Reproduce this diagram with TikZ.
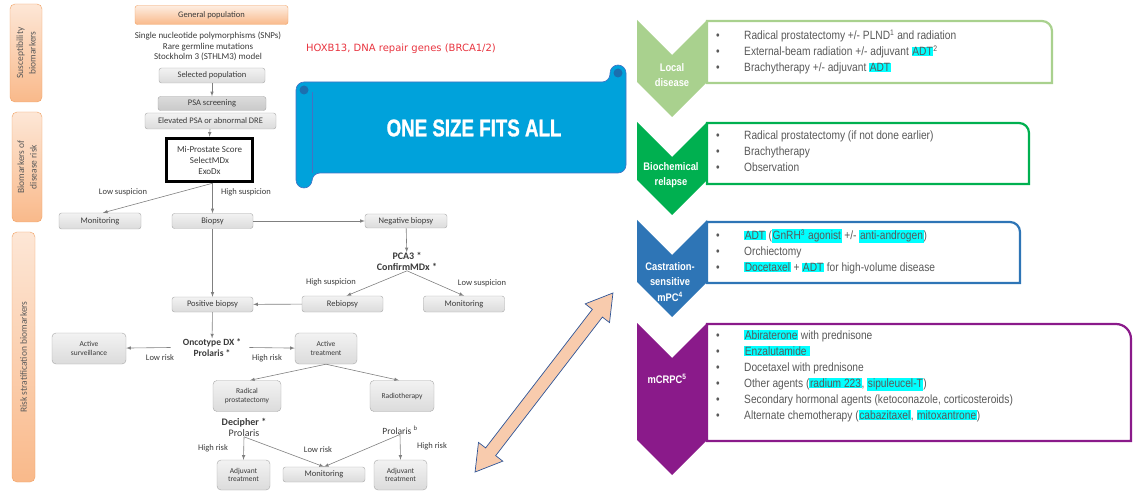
\documentclass[tikz,border=0pt]{standalone}
\usepackage{fontspec}
\setmainfont{Carlito}
\newfontfamily\redfont{DejaVu Sans}
\newfontfamily\listfont{Liberation Sans}[FakeStretch=0.85]
\newfontfamily\bannerfont{Liberation Sans}[FakeStretch=0.78, FakeBold=1.2]
\usepackage{xcolor}
\usepackage{tikz}
\usetikzlibrary{shapes,arrows,positioning,fit}

\definecolor{barfill}{HTML}{F9B98A}
\definecolor{barline}{HTML}{F0A062}
\definecolor{boxline}{HTML}{A6A6A6}
\definecolor{flowtext}{HTML}{3A3A3A}
\definecolor{hoxred}{HTML}{E8343F}
\definecolor{bannerblue}{HTML}{00A2DB}
\definecolor{bannerline}{HTML}{4472C4}
\definecolor{curlblue}{HTML}{1B6FAF}
\definecolor{arrowfill}{HTML}{F8CBAD}
\definecolor{arrowline}{HTML}{2F5597}
\definecolor{localgreen}{HTML}{A9D18E}
\definecolor{relapsegreen}{HTML}{00B050}
\definecolor{sensblue}{HTML}{2E75B6}
\definecolor{crpcpurple}{HTML}{8A1A8A}
\definecolor{listgray}{HTML}{595959}
\definecolor{hlcyan}{HTML}{00FFFF}

\newcommand{\cyanmark}[1]{{\setlength{\fboxsep}{0.6pt}\colorbox{hlcyan}{#1}}}

\begin{document}
\begin{tikzpicture}[
    x=1pt, y=-1pt,
    stage/.style={rectangle, rounded corners=5pt, draw=barline, top color=barfill!35, bottom color=barfill, text=listgray, font=\fontsize{9.5}{12.5}\selectfont, align=center, rotate=90, inner sep=0pt},
    fbox/.style={rectangle, rounded corners=2.5pt, draw=boxline, top color=gray!10, bottom color=gray!28, text=flowtext, font=\fontsize{8.5}{10}\selectfont, align=center, inner sep=0pt},
    tbox/.style={fbox, rounded corners=4pt, font=\fontsize{7.5}{8.5}\selectfont},
    marker/.style={text=flowtext, font=\bfseries\fontsize{10}{11}\selectfont, align=center, inner sep=0pt},
    lbl/.style={text=flowtext, font=\fontsize{8.5}{10}\selectfont, inner sep=0pt},
    edge/.style={-latex, draw=gray, line width=0.6pt},
    panel/.style={line width=2.2pt, fill=white},
    items/.style={anchor=base west, inner sep=0pt, text=listgray, font=\listfont\fontsize{12}{16}\selectfont},
    stagelbl/.style={text=white, font=\listfont\bfseries\fontsize{11}{15.5}\selectfont, align=center, inner sep=0pt}
]
    \useasboundingbox (0,0) rectangle (1134,494);

    % biomarker stages on the left
    \node[stage, minimum width=98pt, minimum height=32pt] (susc) at (26,53) {Susceptibility\\biomarkers};
    \node[stage, minimum width=110pt, minimum height=30pt] (risk) at (27,167) {Biomarkers of\\disease risk};
    \node[stage, minimum width=250pt, minimum height=23pt] (strat) at (23.5,357) {Risk stratification biomarkers};

    % screening flow
    \node[fbox, minimum width=153pt, minimum height=19pt, draw=barline, top color=barfill!25, bottom color=barfill] (genpop) at (211.5,15) {General population};
    \node[text=flowtext, font=\fontsize{9}{10.5}\selectfont, align=center, inner sep=0pt] (germ) at (208,46.5) {Single nucleotide polymorphisms (SNPs)\\Rare germline mutations\\Stockholm 3 (STHLM3) model};
    \node[text=hoxred, font=\redfont\fontsize{10}{12}\selectfont, inner sep=0pt] (hox) at (401,49) {HOXB13, DNA repair genes (BRCA1/2)};
    \node[fbox, minimum width=106pt, minimum height=15pt] (selpop) at (212,75.5) {Selected population};
    \node[fbox, minimum width=108pt, minimum height=14pt, top color=gray!28, bottom color=gray!42] (psa) at (212,103.5) {PSA screening};
    \node[fbox, minimum width=131pt, minimum height=16pt] (elev) at (210.5,121) {Elevated PSA or abnormal DRE};
    \node[draw=black, line width=3.5pt, fill=white, minimum width=86pt, minimum height=43pt, text=flowtext, font=\fontsize{9}{11}\selectfont, align=center, inner sep=0pt] (mips) at (209.5,160) {Mi-Prostate Score\\SelectMDx\\ExoDx};

    \node[fbox, minimum width=82pt, minimum height=16pt] (mon1) at (100,221) {Monitoring};
    \node[fbox, minimum width=81pt, minimum height=15pt] (biopsy) at (212.5,221) {Biopsy};
    \node[fbox, minimum width=82pt, minimum height=14pt] (negb) at (406,221) {Negative biopsy};
    \node[marker] (pca) at (407,261.5) {PCA3 *\\ConfirmMDx *};
    \node[fbox, minimum width=81pt, minimum height=16pt] (rebiop) at (342.5,304) {Rebiopsy};
    \node[fbox, minimum width=81pt, minimum height=16pt] (mon2) at (464,304) {Monitoring};
    \node[fbox, minimum width=81pt, minimum height=15pt] (posb) at (212.5,304.5) {Positive biopsy};

    % risk stratification and treatment
    \node[marker, font=\bfseries\fontsize{9.5}{11}\selectfont] (onco) at (212,347.5) {Oncotype DX *\\Prolaris *};
    \node[tbox, minimum width=74pt, minimum height=31pt] (surv) at (89,348.5) {Active\\surveillance};
    \node[tbox, minimum width=62pt, minimum height=31pt] (treat) at (326,348.5) {Active\\treatment};
    \node[tbox, minimum width=68pt, minimum height=31pt] (prost) at (247,396) {Radical\\prostatectomy};
    \node[tbox, minimum width=64pt, minimum height=31pt] (radio) at (402,396) {Radiotherapy};
    \node[marker] (deci) at (244,427.5) {Decipher *\\\mdseries Prolaris};
    \node[marker, font=\fontsize{9.5}{11}\selectfont] (prol) at (400,430) {Prolaris \textsuperscript{b}};
    \node[tbox, minimum width=53pt, minimum height=30pt] (adj1) at (243.5,475) {Adjuvant\\treatment};
    \node[fbox, minimum width=82pt, minimum height=15pt] (mon3) at (324,474.5) {Monitoring};
    \node[tbox, minimum width=53pt, minimum height=30pt] (adj2) at (400.5,475) {Adjuvant\\treatment};

    \node[lbl] (lows1) at (123,192) {Low suspicion};
    \node[lbl] (highs1) at (246,192) {High suspicion};
    \node[lbl] (highs2) at (331,282) {High suspicion};
    \node[lbl] (lows2) at (482,283) {Low suspicion};
    \node[lbl] (lowr1) at (160,358) {Low risk};
    \node[lbl] (highr1) at (267,358) {High risk};
    \node[lbl] (highr2) at (213,448) {High risk};
    \node[lbl] (lowr2) at (318,450) {Low risk};
    \node[lbl] (highr3) at (432,446) {High risk};

    \draw[edge] (selpop) -- (psa);
    \draw[edge] (elev) -- (mips.north);
    \draw[edge] (mips.south -| biopsy) -- (biopsy);
    \draw[edge] (mips.south -| biopsy) -- ([xshift=3pt]mon1.north);
    \draw[edge] (biopsy) -- (negb);
    \draw[edge] (negb) -- (pca);
    \draw[edge] (pca.south) -- ([xshift=4pt]rebiop.north);
    \draw[edge] (pca.south) -- (mon2.north);
    \draw[edge] (biopsy) -- (posb);
    \draw[edge] (rebiop) -- (posb);
    \draw[edge] (posb) -- (onco);
    \draw[edge] ([xshift=-12pt]onco.west) -- (surv);
    \draw[edge] ([xshift=8pt]onco.east) -- (treat);
    \draw[edge] (treat.south) -- ([xshift=3pt]prost.north);
    \draw[edge] (treat.south) -- ([xshift=-3pt]radio.north);
    \draw[edge] (deci.south) -- (adj1.north);
    \draw[edge] (deci.south) -- (mon3.north);
    \draw[edge] (prol.south) -- (mon3.north);
    \draw[edge] (prol.south) -- (adj2.north);

    % scroll banner
    \draw[fill=bannerblue, draw=bannerline, line width=0.6pt, rounded corners=8pt] (296,82) -- (610,82) -- (610,65) -- (626,65) -- (626,173) -- (312,173) -- (312,188) -- (296,188) -- cycle;
    \draw[bannerline, line width=0.5pt] (312,92) -- (312,173);
    \fill[curlblue] (304,90) circle (4.5pt);
    \fill[curlblue] (618,73) circle (4.5pt);
    \node[text=white, font=\bannerfont\bfseries\fontsize{24}{24}\selectfont, inner sep=0pt] (fits) at (474,128) {ONE SIZE FITS ALL};

    \node[double arrow, draw=arrowline, fill=arrowfill, line width=0.7pt, minimum height=226pt, inner xsep=0pt, inner ysep=6pt, double arrow head extend=9pt, double arrow tip angle=62, rotate=52.4] (span) at (544,382.5) {};

    % disease stages on the right
    \fill[localgreen] (637,20) -- (672,55) -- (707,20) -- (707,82) -- (672,117) -- (637,82) -- cycle;
    \draw[panel, draw=localgreen] (707,21) -- (1042,21) arc[start angle=-90, end angle=0, radius=10] -- (1052,83) -- (707,83) -- cycle;
    \node[stagelbl] (local) at (672,75) {Local\\disease};
    \node[items] (localitems) at (716,39.5) {\begin{tabular}[t]{@{}p{28pt}@{}l@{}}
        \textbullet & Radical prostatectomy +/- PLND\textsuperscript{1} and radiation\\
        \textbullet & External-beam radiation +/- adjuvant \cyanmark{ADT}\textsuperscript{2}\\
        \textbullet & Brachytherapy +/- adjuvant \cyanmark{ADT}
    \end{tabular}};

    \fill[relapsegreen] (637,122) -- (672,157) -- (707,122) -- (707,180) -- (672,215) -- (637,180) -- cycle;
    \draw[panel, draw=relapsegreen] (707,123) -- (1019,123) arc[start angle=-90, end angle=0, radius=10] -- (1029,184) -- (707,184) -- cycle;
    \node[stagelbl] (relapse) at (671,175) {Biochemical\\relapse};
    \node[items] (relapseitems) at (716,139.5) {\begin{tabular}[t]{@{}p{28pt}@{}l@{}}
        \textbullet & Radical prostatectomy (if not done earlier)\\
        \textbullet & Brachytherapy\\
        \textbullet & Observation
    \end{tabular}};

    \fill[sensblue] (637,220) -- (672,255) -- (707,220) -- (707,282) -- (672,317) -- (637,282) -- cycle;
    \draw[panel, draw=sensblue] (707,222) -- (1010,222) arc[start angle=-90, end angle=0, radius=10] -- (1020,283) -- (707,283) -- cycle;
    \node[stagelbl] (sensitive) at (670,282) {Castration-\\sensitive\\mPC\textsuperscript{4}};
    \node[items] (sensitems) at (716,239.5) {\begin{tabular}[t]{@{}p{28pt}@{}l@{}}
        \textbullet & \cyanmark{ADT} (\cyanmark{GnRH\textsuperscript{3} agonist} +/- \cyanmark{anti-androgen})\\
        \textbullet & Orchiectomy\\
        \textbullet & \cyanmark{Docetaxel} + \cyanmark{ADT} for high-volume disease
    \end{tabular}};

    \fill[crpcpurple] (637,323) -- (672,358) -- (707,323) -- (707,440) -- (672,475) -- (637,440) -- cycle;
    \draw[panel, draw=crpcpurple] (707,324) -- (1116,324) arc[start angle=-90, end angle=0, radius=15] -- (1131,441) -- (707,441) -- cycle;
    \node[stagelbl] (crpc) at (667,379) {mCRPC\textsuperscript{5}};
    \node[items] (crpcitems) at (716,339.5) {\begin{tabular}[t]{@{}p{28pt}@{}l@{}}
        \textbullet & \cyanmark{Abiraterone} with prednisone\\
        \textbullet & \cyanmark{Enzalutamide\ }\\
        \textbullet & Docetaxel with prednisone\\
        \textbullet & Other agents (\cyanmark{radium 223}, \cyanmark{sipuleucel-T})\\
        \textbullet & Secondary hormonal agents (ketoconazole, corticosteroids)\\
        \textbullet & Alternate chemotherapy (\cyanmark{cabazitaxel}, \cyanmark{mitoxantrone})
    \end{tabular}};
\end{tikzpicture}
\end{document}
